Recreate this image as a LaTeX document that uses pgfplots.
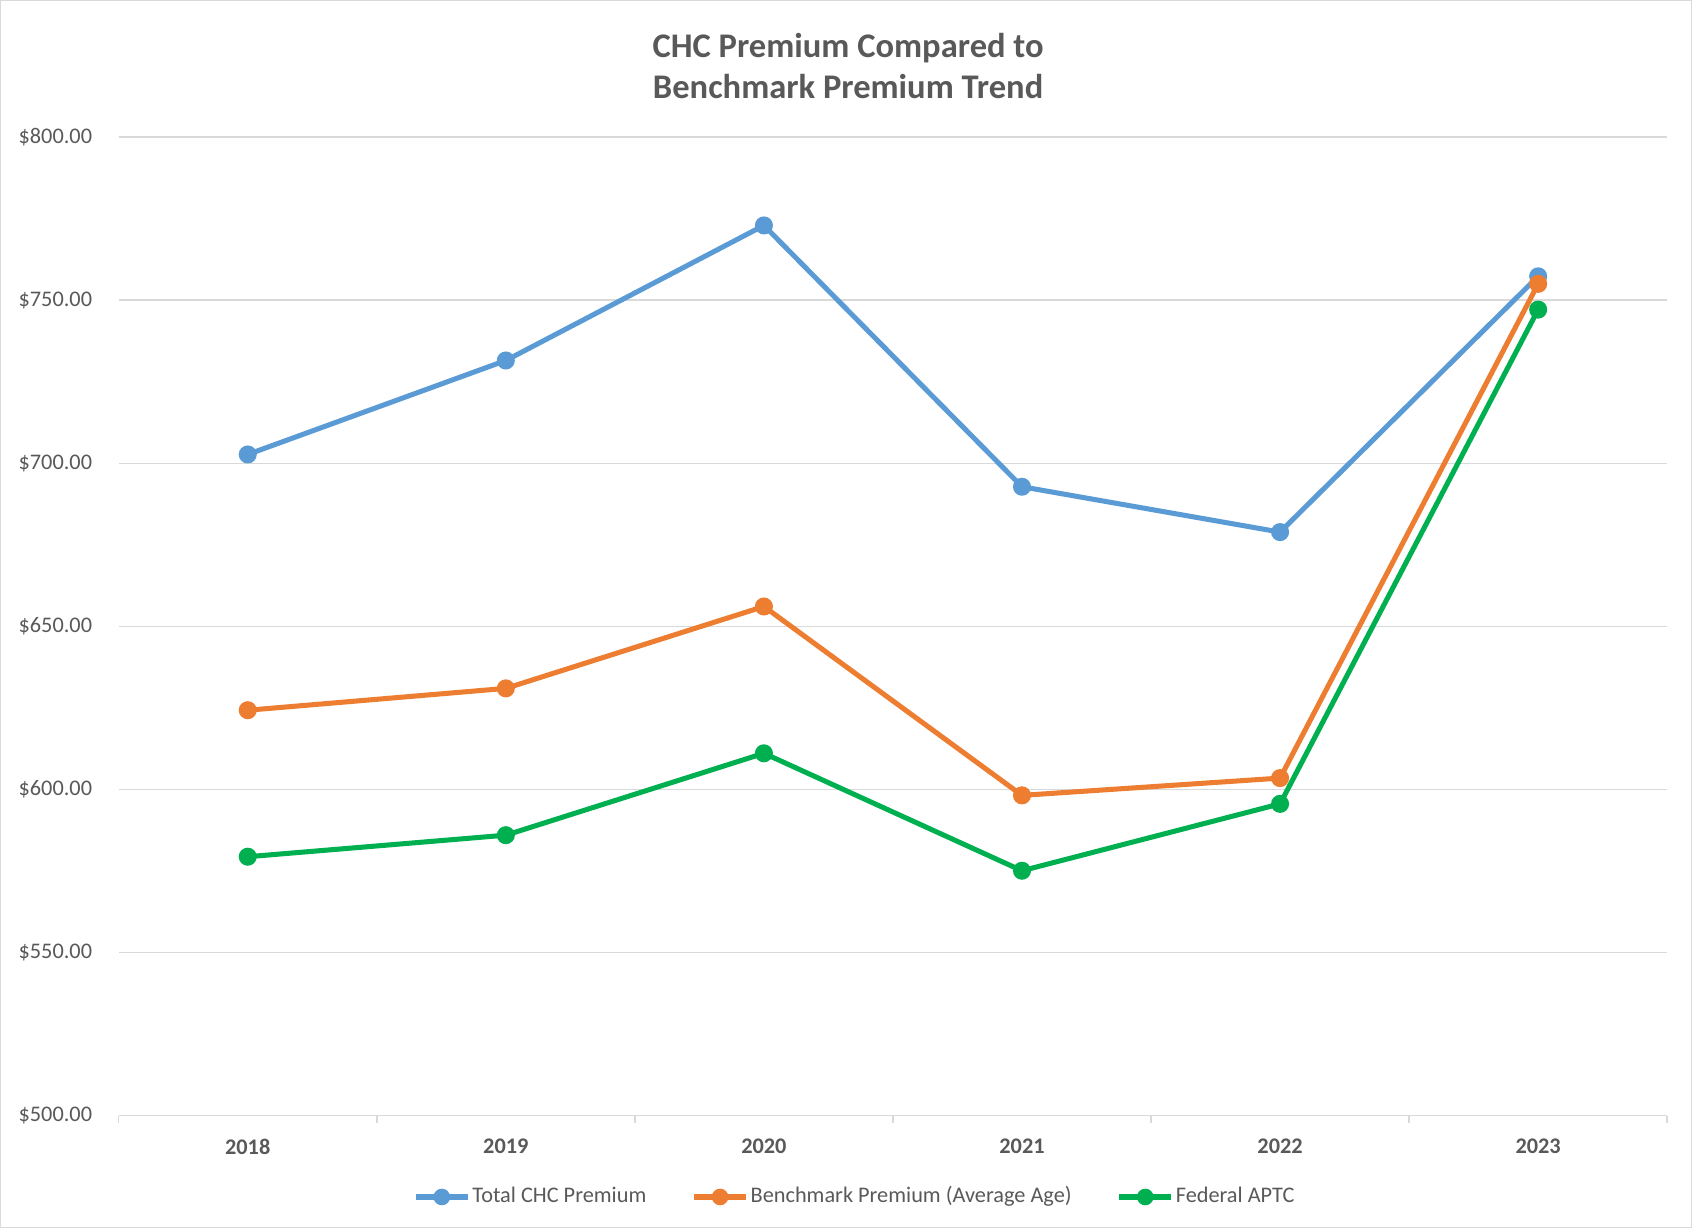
\documentclass[border=0pt]{standalone}
\usepackage{fontspec}
\setmainfont{Carlito}
\usepackage{pgfplots}
\pgfplotsset{compat=1.18}
\definecolor{cblue}{HTML}{5B9BD5}
\definecolor{corange}{HTML}{ED7D31}
\definecolor{cgreen}{HTML}{00B050}
\definecolor{txt}{HTML}{595959}
\definecolor{gridc}{HTML}{D9D9D9}

\begin{document}
\begin{tikzpicture}
% chart frame, 1px = 0.3pt of the reference
\useasboundingbox (0,0) rectangle (470.4pt,341.4pt);
\draw[gridc, line width=0.4pt] (0.2pt,0.2pt) rectangle (470.2pt,341.2pt);
\node[font=\fontsize{9.6}{11.4}\selectfont\bfseries, text=txt, align=center]
  at (235.8pt,323.1pt) {CHC Premium Compared to\\Benchmark Premium Trend};
\begin{axis}[
    at={(33pt,31.2pt)}, anchor=south west,
    scale only axis,
    width=430.5pt, height=272.1pt,
    xmin=-0.5, xmax=5.5,
    ymin=500, ymax=800,
    xtick={0,...,5},
    xticklabels={2018,2019,2020,2021,2022,2023},
    minor xtick={-0.5,0.5,...,5.5},
    major x tick style={draw=none},
    minor tick length=2pt,
    tick align=outside,
    ytick={500,550,...,800},
    yticklabel={\$\pgfmathprintnumber[fixed,fixed zerofill,precision=2]{\tick}},
    y tick style={draw=none},
    ymajorgrids,
    grid style={gridc, line width=0.4pt},
    axis x line*=bottom,
    axis y line*=left,
    y axis line style={draw=none, -},
    x axis line style={gridc, line width=0.4pt, -},
    minor x tick style={gridc, line width=0.4pt},
    /pgf/number format/assume math mode=true,
    ticklabel style={font=\fontsize{6.2}{7}\selectfont, text=txt},
    xticklabel style={font=\fontsize{6.2}{7}\selectfont\bfseries, text=txt, yshift=1.4pt},
    yticklabel style={xshift=0.4pt},
    every axis plot/.append style={line width=1.4pt, mark=*, mark size=1.8pt},
    legend columns=3,
    legend style={at={(0.4755,-0.083)}, anchor=center, draw=none, fill=none,
      font=\fontsize{6.2}{7}\selectfont, text=txt,
      nodes={inner xsep=0.6pt},
      /tikz/every even column/.append style={column sep=12pt},
      inner sep=0pt},
    legend image code/.code={
      \draw[#1, mark=none] (0pt,0pt) -- (14.4pt,0pt);
      \fill[#1] (7.2pt,0pt) circle (1.6pt);
    },
]
\addplot[cblue, mark options={fill=cblue, draw=cblue}] coordinates {
  (0,702.7) (1,731.5) (2,772.9) (3,692.8) (4,678.9) (5,757.3)};
\addplot[corange, mark options={fill=corange, draw=corange}] coordinates {
  (0,624.3) (1,631.0) (2,656.1) (3,598.2) (4,603.5) (5,755.0)};
\addplot[cgreen, mark options={fill=cgreen, draw=cgreen}] coordinates {
  (0,579.4) (1,586.0) (2,611.1) (3,575.1) (4,595.6) (5,747.1)};
\legend{Total CHC Premium, Benchmark Premium (Average Age), Federal APTC}
\end{axis}
\end{tikzpicture}
\end{document}
